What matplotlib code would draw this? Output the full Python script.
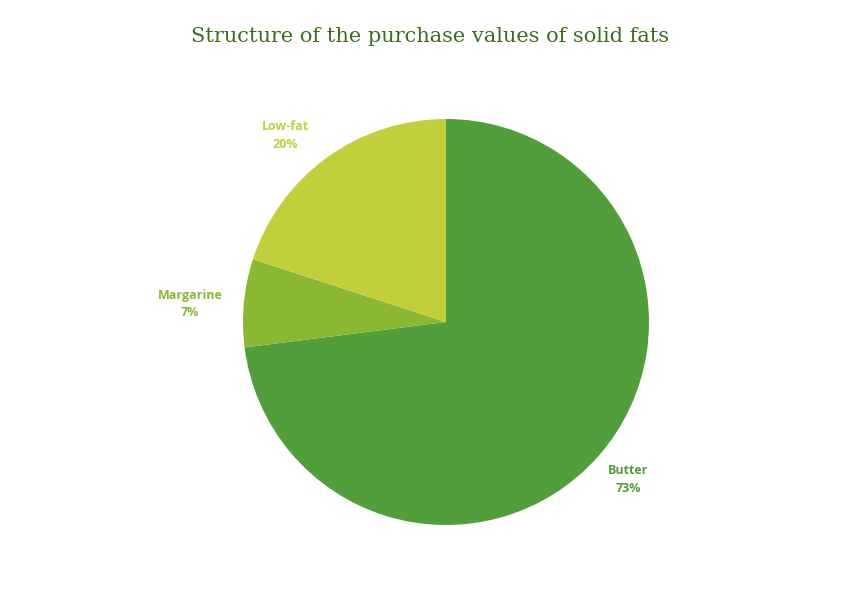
import matplotlib
matplotlib.use("Agg")
import matplotlib.pyplot as plt

categories = ["Butter", "Margarine", "Low-fat"]
values = [73, 7, 20]
colors = ["#529E3A", "#8AB833", "#C0CF3A"]
label_colors = ["#529E3A", "#8AB833", "#C0CF3A"]

W, H = 860, 600
fig = plt.figure(figsize=(W/100, H/100), dpi=100)
cx, cy, r = 446, 322, 203
ax = fig.add_axes([(cx-r)/W, (H-cy-r)/H, 2*r/W, 2*r/H])
ax.pie(values, colors=colors, startangle=90, counterclock=False,
       wedgeprops=dict(linewidth=0), radius=1)
ax.set_xlim(-1, 1); ax.set_ylim(-1, 1)
ax.set_aspect("equal")
ax.axis("off")

fig.text(0.5, 1-36/H, "Structure of the purchase values of solid fats",
         ha="center", va="center", fontsize=15, family="DejaVu Serif",
         color="#3F6B1F")

label_pos = [(628, 480), (190, 304), (285, 135)]
for (x, y), c, v, lc in zip(label_pos, categories, values, label_colors):
    fig.text(x/W, 1-y/H, f"{c}\n{v}%", ha="center", va="center",
             fontsize=9, fontweight="bold", color=lc, linespacing=1.5,
             family="Open Sans")

fig.savefig("out.png", dpi=100, facecolor="white")
